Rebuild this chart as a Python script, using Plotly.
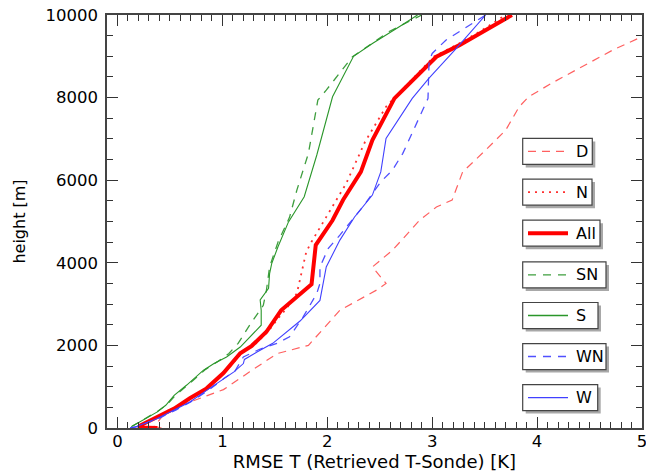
import plotly.graph_objects as go

# ---- data ----
D_x = [0.42, 0.35, 0.47, 0.69, 0.85, 1.01, 1.26, 1.52, 1.82, 2.12, 2.47, 2.56, 2.43, 2.62, 2.88, 3.04, 3.19, 3.29, 3.51, 3.70, 3.83, 3.92, 4.14, 4.43, 4.72, 4.97, 5.10]
D_y = [0, 40, 420, 630, 790, 930, 1360, 1800, 2000, 2850, 3340, 3500, 3900, 4300, 5030, 5350, 5520, 6200, 6730, 7210, 7780, 8020, 8350, 8750, 9150, 9440, 9600]

N_x = [0.35, 0.20, 0.23, 0.38, 0.55, 0.70, 0.86, 1.02, 1.18, 1.30, 1.44, 1.53, 1.61, 1.71, 1.75, 1.80, 1.85, 1.99, 2.18, 2.36, 2.56, 2.66, 3.02, 3.25, 3.48, 3.70]
N_y = [0, 10, 70, 270, 480, 730, 970, 1340, 1800, 2000, 2350, 2650, 2890, 3260, 3740, 4270, 4510, 5110, 5920, 6930, 7780, 8050, 9000, 9300, 9640, 10000]

All_x = [0.38, 0.20, 0.22, 0.38, 0.54, 0.69, 0.85, 1.01, 1.17, 1.28, 1.42, 1.56, 1.71, 1.85, 1.89, 2.05, 2.15, 2.32, 2.43, 2.64, 3.04, 3.26, 3.76]
All_y = [0, 10, 65, 260, 470, 720, 960, 1330, 1810, 1990, 2330, 2850, 3180, 3480, 4430, 5030, 5520, 6200, 6970, 7980, 8990, 9270, 10000]

SN_x = [0.13, 0.38, 0.47, 0.56, 0.68, 0.84, 0.95, 1.06, 1.15, 1.26, 1.39, 1.42, 1.45, 1.47, 1.53, 1.64, 1.71, 1.82, 1.91, 1.99, 2.16, 2.24, 2.59, 2.90]
SN_y = [30, 400, 560, 810, 1060, 1420, 1600, 1800, 2050, 2490, 2970, 3340, 3900, 4060, 4500, 5100, 5760, 6650, 7940, 8180, 8750, 8990, 9600, 10000]

S_x = [0.14, 0.38, 0.46, 0.54, 0.66, 0.82, 0.92, 1.04, 1.17, 1.37, 1.37, 1.36, 1.44, 1.45, 1.47, 1.53, 1.63, 1.78, 1.90, 2.05, 2.25, 2.43, 2.69, 2.86]
S_y = [40, 390, 550, 790, 1040, 1400, 1560, 1720, 1960, 2490, 2850, 3100, 3380, 3740, 3980, 4390, 4990, 5600, 6610, 8020, 9000, 9310, 9720, 10000]

WN_x = [0.12, 0.18, 0.40, 0.56, 0.71, 0.87, 1.02, 1.12, 1.20, 1.35, 1.52, 1.64, 1.77, 1.90, 1.93, 1.93, 2.01, 2.12, 2.34, 2.51, 2.62, 2.72, 2.96, 2.97, 3.00, 3.13, 3.51]
WN_y = [0, 30, 240, 440, 650, 920, 1210, 1380, 1720, 1900, 2050, 2210, 2690, 3260, 3500, 3900, 4350, 4670, 5360, 5960, 6240, 6650, 7980, 8870, 9070, 9390, 10000]

W_x = [0.12, 0.17, 0.38, 0.54, 0.69, 0.85, 1.01, 1.11, 1.20, 1.21, 1.33, 1.48, 1.74, 1.93, 1.99, 2.12, 2.26, 2.43, 2.51, 2.56, 2.81, 2.97, 3.23, 3.51]
W_y = [0, 25, 230, 430, 630, 910, 1200, 1360, 1560, 1660, 1840, 2050, 2590, 3090, 3900, 4550, 5110, 5640, 6200, 7010, 7980, 8470, 9190, 10000]

x_tick_vals = [0, 1, 2, 3, 4, 5]
y_tick_vals = [0, 2000, 4000, 6000, 8000, 10000]

series = [
    ("D", D_x, D_y, "#ff6060", "8px,6px", 1.2),
    ("N", N_x, N_y, "#ff3030", "2px,5px", 1.8),
    ("All", All_x, All_y, "#ff0000", "solid", 4.0),
    ("SN", SN_x, SN_y, "#3e9e3e", "8px,7px", 1.3),
    ("S", S_x, S_y, "#2a962a", "solid", 1.1),
    ("WN", WN_x, WN_y, "#5050ff", "8px,7px", 1.3),
    ("W", W_x, W_y, "#4040ff", "solid", 1.1),
]

FONT = "DejaVu Sans, Verdana, sans-serif"
# plot area in window pixels
PL, PR, PT, PB = 107, 642, 15, 427.7
FIG_W, FIG_H = 646, 476


def px_x(p):
    return (p - PL) / (PR - PL)


def px_y(p):
    return (PB - p) / (PB - PT)


fig = go.Figure()
for name, xs, ys, col, dash, w in series:
    fig.add_trace(go.Scatter(x=xs, y=ys, mode="lines", name=name,
                             line=dict(color=col, dash=dash, width=w),
                             showlegend=False, hoverinfo="skip"))

# empty trace on the mirrored axes so that they are drawn
fig.add_trace(go.Scatter(x=[], y=[], xaxis="x2", yaxis="y2", showlegend=False))

# ---- manual boxed legend ----
box_tops = [138.3, 179, 220, 261.7, 302.3, 343.3, 384.3]
box_rights = [592.3, 592, 600, 606, 598, 606, 597.7]
BOX_L, BOX_H = 522.7, 26
for i, (name, xs, ys, col, dash, w) in enumerate(series):
    t = box_tops[i]
    r = box_rights[i]
    fig.add_shape(type="rect", xref="paper", yref="paper",
                  x0=px_x(BOX_L + 3), x1=px_x(r + 3), y0=px_y(t + BOX_H + 3), y1=px_y(t + 3),
                  fillcolor="#a8a8a8", line=dict(width=0), layer="above")
    fig.add_shape(type="rect", xref="paper", yref="paper",
                  x0=px_x(BOX_L), x1=px_x(r), y0=px_y(t + BOX_H), y1=px_y(t),
                  fillcolor="white", line=dict(color="#444444", width=1.2), layer="above")
    cy = t + BOX_H / 2
    fig.add_shape(type="line", xref="paper", yref="paper",
                  x0=px_x(528), x1=px_x(568), y0=px_y(cy), y1=px_y(cy),
                  line=dict(color=col, dash=dash, width=max(w, 1.4)), layer="above")
    fig.add_annotation(x=px_x(574), y=px_y(cy), xref="paper", yref="paper",
                       text=name, showarrow=False, xanchor="left", yanchor="middle",
                       font=dict(family=FONT, size=16, color="black"))

axis_common = dict(
    showgrid=False, zeroline=False, showline=True, linecolor="#444444", linewidth=1.5,
    mirror=True, ticks="inside", ticklen=11, tickwidth=1.2, tickcolor="#333333",
    tickfont=dict(family=FONT, size=16.5, color="black"), automargin=False,
    ticklabeloverflow="allow",
)
mirror_common = dict(
    showgrid=False, zeroline=False, showline=False, ticks="inside", ticklen=11,
    tickwidth=1.2, tickcolor="#333333", showticklabels=False, automargin=False,
)

fig.update_layout(
    width=FIG_W, height=FIG_H,
    margin=dict(l=PL, r=FIG_W - PR, t=PT, b=FIG_H - PB, autoexpand=False),
    paper_bgcolor="white", plot_bgcolor="white",
    showlegend=False,
    xaxis=dict(range=[-0.1, 5], tickvals=x_tick_vals, ticktext=[str(v) for v in x_tick_vals],
               ticklabelstandoff=-3,
               minor=dict(dtick=0.1, tick0=0, ticks="inside", ticklen=6, tickcolor="#333333", tickwidth=1),
               title=dict(text="RMSE T (Retrieved T-Sonde) [K]", font=dict(family=FONT, size=18, color="black"), standoff=2),
               **axis_common),
    yaxis=dict(range=[0, 10000], tickvals=y_tick_vals, ticktext=[str(v) for v in y_tick_vals],
               ticklabelstandoff=4,
               minor=dict(dtick=500, tick0=0, ticks="inside", ticklen=6, tickcolor="#333333", tickwidth=1),
               title=dict(text="height [m]", font=dict(family=FONT, size=16, color="black"), standoff=16),
               **axis_common),
    xaxis2=dict(overlaying="x", side="top", anchor="y", range=[-0.1, 5], tickvals=x_tick_vals,
                minor=dict(dtick=0.1, tick0=0, ticks="inside", ticklen=6, tickcolor="#333333", tickwidth=1),
                **mirror_common),
    yaxis2=dict(overlaying="y", side="right", anchor="x", range=[0, 10000], tickvals=y_tick_vals,
                minor=dict(dtick=500, tick0=0, ticks="inside", ticklen=6, tickcolor="#333333", tickwidth=1),
                **mirror_common),
)

# remove the page's default body margin so the figure sits at the window's top-left corner
fig.write_html("out.html", config={"displayModeBar": False},
               post_script="document.body.style.margin='0';document.body.style.overflow='hidden';")
